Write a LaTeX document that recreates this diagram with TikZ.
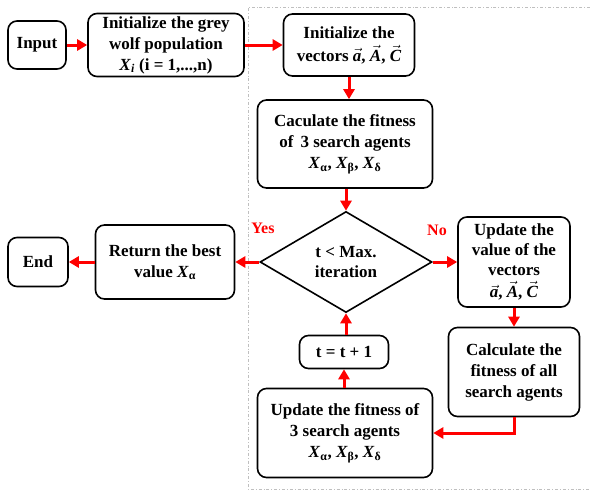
\documentclass[tikz,border=0pt]{standalone}
\usepackage{fontspec}
\setmainfont{Liberation Serif}
\usetikzlibrary{shapes.geometric,arrows.meta}
\newcommand{\vv}[1]{\ensuremath{\vec{\textbf{\textit{#1}}}}}
\newcommand{\Xs}[1]{\textit{X}\textsubscript{#1}}
\begin{document}
\begin{tikzpicture}[x=1pt,y=-1pt,
  box/.style={draw, line width=1.6pt, rounded corners=9pt, align=center,
    font=\fontsize{17}{21}\selectfont\bfseries, inner xsep=2pt, inner ysep=1pt},
  arr/.style={red, line width=3pt, -{Triangle[length=10pt,width=11pt]}},
  lbl/.style={red, font=\fontsize{16}{19}\selectfont\bfseries}]
\useasboundingbox (0,0) rectangle (590,490);
\draw[gray!50, line width=0.8pt, dash dot] (590,7) -- (248,7) -- (248,489) -- (590,489);

\node[box, minimum width=58, minimum height=48] (in) at (37,45) {Input};
\node[box, minimum width=156, minimum height=63] (init) at (166,45)
  {Initialize the grey\\wolf population\\\Xs{\textit{i}} (i = 1,...,n)};
\node[box, minimum width=131, minimum height=62] (vec) at (349,45)
  {Initialize the\\[2pt]vectors \vv{a}, \vv{A}, \vv{C}};
\node[box, minimum width=175, minimum height=88] (fit3) at (345,144)
  {Caculate the fitness\\of\, 3 search agents\\\Xs{α}, \Xs{β}, \Xs{δ}};
\node[draw, diamond, line width=1.6pt, aspect=1.7, inner sep=0pt,
  minimum width=172, minimum height=101, align=center,
  font=\fontsize{17}{20}\selectfont\bfseries] (dia) at (346,262) {t < Max.\\iteration};
\node[box, minimum width=139, minimum height=74] (ret) at (165,262)
  {Return the best\\value \Xs{α}};
\node[box, minimum width=60, minimum height=49] (end) at (38,262) {End};
\node[box, minimum width=112, minimum height=90,
  font=\fontsize{17}{20}\selectfont\bfseries] (upd) at (514,262)
  {Update the\\value of the\\vectors\\[2pt]\vv{a}, \vv{A}, \vv{C}};
\node[box, minimum width=131, minimum height=89] (all) at (514,372)
  {Calculate the\\fitness of all\\search agents};
\node[box, minimum width=89, minimum height=33] (inc) at (344,352) {t = t + 1};
\node[box, minimum width=175, minimum height=89] (upd3) at (345,433)
  {Update the fitness of\\3 search agents\\\Xs{α}, \Xs{β}, \Xs{δ}};

\draw[arr] (in.east) -- (init.west);
\draw[arr] (init.east) -- (vec.west);
\draw[arr] (vec.south) -- (vec.south |- fit3.north);
\draw[arr] (fit3.south -| dia.north) -- (dia.north);
\draw[arr] (dia.west) -- (ret.east);
\draw[arr] (ret.west) -- (end.east);
\draw[arr] (dia.east) -- (upd.west);
\draw[arr] (upd.south) -- (all.north);
\draw[arr] (all.south) |- (upd3.east);
\draw[arr] (upd3.north -| inc.south) -- (inc.south);
\draw[arr] (inc.north -| dia.south) -- (dia.south);

\node[lbl] (yes) at (263,228) {Yes};
\node[lbl] (no) at (437,230) {No};
\end{tikzpicture}
\end{document}
